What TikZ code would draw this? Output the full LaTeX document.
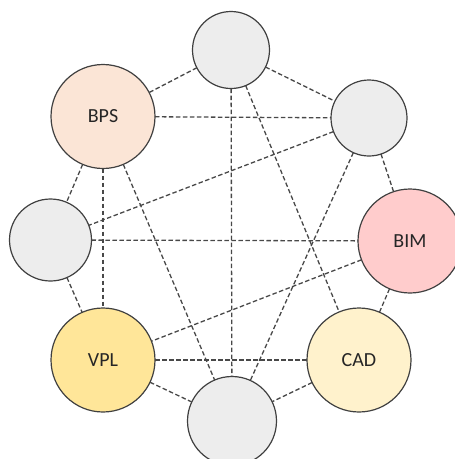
\documentclass[tikz,border=0pt]{standalone}
\usepackage{fontspec}
\setmainfont{Carlito}
\definecolor{edgegray}{HTML}{404040}
\definecolor{linkgray}{HTML}{484848}
\definecolor{idlefill}{HTML}{EDEDED}
\definecolor{bpsfill}{HTML}{FBE5D6}
\definecolor{bimfill}{HTML}{FFCCCC}
\definecolor{vplfill}{HTML}{FFE699}
\definecolor{cadfill}{HTML}{FFF2CC}
\begin{document}
\begin{tikzpicture}[x=1pt,y=-1pt,
  hub/.style={circle,draw=edgegray,line width=1.2pt,inner sep=0pt,outer sep=0pt,
    minimum size=#1,font=\fontsize{20}{24}\selectfont,text=black!85},
  idle/.style={hub=#1,fill=idlefill},
  link/.style={draw=linkgray,line width=1.3pt,dash pattern=on 4.5pt off 2.5pt}]
  \useasboundingbox (0,0) rectangle (455,459);
  \clip (0,0) rectangle (455,459);

  % ring of eight circles
  \node[idle=77pt] (top)   at (231,50)  {};
  \node[idle=76pt] (tr)    at (369,118) {};
  \node[idle=82pt] (left)  at (50.5,240) {};
  \node[idle=89pt] (bot)   at (232,421) {};
  \node[hub=104pt,fill=bpsfill] (bps) at (103,116.5) {BPS};
  \node[hub=104pt,fill=bimfill] (bim) at (410,241) {BIM};
  \node[hub=104pt,fill=vplfill] (vpl) at (103,360) {VPL};
  \node[hub=104pt,fill=cadfill] (cad) at (359,360) {CAD};

  % dashed links between the circles
  \draw[link] (top) -- (bps);
  \draw[link] (top) -- (tr);
  \draw[link] (top) -- (bot);
  \draw[link] (top) -- (cad);
  \draw[link] (bps) -- (tr);
  \draw[link] (bps) -- (left);
  \draw[link] (bps) -- (vpl);
  \draw[link] (bps) -- (bot);
  \draw[link] (tr) -- (left);
  \draw[link] (tr) -- (bot);
  \draw[link] (tr) -- (bim);
  \draw[link] (left) -- (bim);
  \draw[link] (left) -- (vpl);
  \draw[link] (bim) -- (vpl);
  \draw[link] (bim) -- (cad);
  \draw[link] (vpl) -- (cad);
  \draw[link] (vpl) -- (bot);
  \draw[link] (cad) -- (bot);
\end{tikzpicture}
\end{document}
